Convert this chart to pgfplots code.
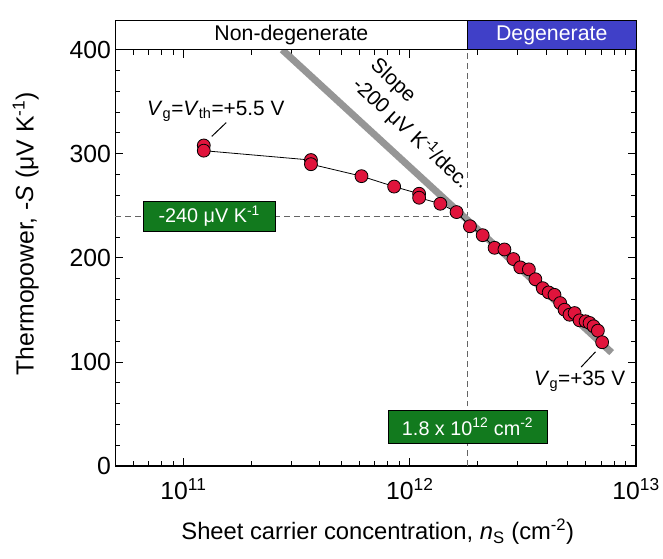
\documentclass[border=0pt]{standalone}
\usepackage{fontspec}
\setmainfont{Liberation Sans}
\usepackage{pgfplots}
\pgfplotsset{compat=1.18}

\definecolor{ptred}{RGB}{224,20,60}
\definecolor{degblue}{RGB}{64,64,200}
\definecolor{boxgreen}{RGB}{18,122,30}
\definecolor{slopegray}{RGB}{150,150,150}
\definecolor{dashgray}{RGB}{100,100,100}

\begin{document}
\begin{tikzpicture}
\begin{axis}[
    name=ax,
    width=524bp, height=419bp, scale only axis,
    xmode=log, xmin=5e10, xmax=1e13,
    ymin=0, ymax=400,
    xtick={1e11,1e12,1e13},
    xticklabels={10\textsuperscript{11},10\textsuperscript{12},10\textsuperscript{13}},
    minor xtick={6e10,7e10,8e10,9e10,2e11,3e11,4e11,5e11,6e11,7e11,8e11,9e11,2e12,3e12,4e12,5e12,6e12,7e12,8e12,9e12},
    ytick={0,100,200,300,400},
    yticklabels={0,100,200,300,400},
    minor y tick num=4,
    tick align=inside,
    major tick length=8bp, minor tick length=5bp,
    every tick/.style={black, line width=1bp},
    axis line style={line width=1.3bp},
    tick label style={font=\fontsize{25}{28}\selectfont},
    xticklabel style={yshift=-9bp},
    yticklabel style={xshift=-1bp},
    xlabel style={at={(axis description cs:0.504,-0.158)}, anchor=center, font=\fontsize{24}{28}\selectfont},
    ylabel style={at={(axis description cs:-0.172,0.558)}, anchor=center, font=\fontsize{25}{28}\selectfont},
    xlabel={Sheet carrier concentration, \textit{n}\textsubscript{S} (cm\textsuperscript{-2})},
    ylabel={Thermopower, -\textit{S} (μV K\textsuperscript{-1})},
    clip=false,
]

% guide lines
\draw[dashgray, line width=1.2bp, dash pattern=on 6bp off 4bp] (axis cs:1.8e12,0) -- (axis cs:1.8e12,400);
\draw[dashgray, line width=1.2bp, dash pattern=on 6bp off 4bp] (axis cs:5e10,240) -- (axis cs:1.8e12,240);

% slope -200 uV/K per decade
\addplot[slopegray, line width=7bp, no markers] coordinates {(2.73e11,400) (7.8e12,109)};

% measured thermopower
\addplot[black, line width=0.8bp, mark=*, mark size=6.5bp,
    mark options={fill=ptred, draw=black, line width=0.8bp}] coordinates {
    (1.23e11,308) (1.23e11,303)
    (3.66e11,294) (3.66e11,290)
    (6.12e11,278.5) (8.53e11,268.5)
    (1.10e12,261.6) (1.10e12,257.8)
    (1.365e12,252) (1.61e12,244)
    (1.845e12,230.4) (2.10e12,221.8)
    (2.37e12,209.7) (2.62e12,208.1)
    (2.87e12,198.9) (3.08e12,190.9)
    (3.36e12,189) (3.59e12,179.5)
    (3.87e12,170.9) (4.11e12,166.8)
    (4.36e12,164.5) (4.62e12,156.6)
    (4.83e12,150.2) (5.08e12,145.4)
    (5.35e12,147) (5.63e12,140)
    (5.98e12,139.1) (6.23e12,137.5)
    (6.49e12,134.3) (6.78e12,130.1)
    (7.08e12,119)
};

% regime band
\draw[fill=white, line width=1bp] (axis cs:5e10,400) rectangle (axis cs:1.8e12,427.7);
\draw[fill=degblue, line width=1bp] (axis cs:1.8e12,400) rectangle (axis cs:1e13,427.7);
\node[font=\fontsize{21.5}{24}\selectfont] at (axis cs:3e11,413.8) {Non-degenerate};
\node[font=\fontsize{21.5}{24}\selectfont, text=white] at (axis cs:4.24e12,413.8) {Degenerate};

% annotations
\node[rotate=-43, align=left, font=\fontsize{21}{27}\selectfont] at (axis cs:1.105e12,328.4) {Slope\\-200 μV K\textsuperscript{-1}/dec.};
\node[font=\fontsize{21}{24}\selectfont] at (axis cs:1.39e11,341) {\textit{V}\textsubscript{g}=\textit{V}\textsubscript{th}=+5.5 V};
\draw[line width=1bp] (axis cs:1.334e11,316.7) -- (axis cs:1.546e11,330);
\node[font=\fontsize{21}{24}\selectfont] at (axis cs:5.63e12,81.8) {\textit{V}\textsubscript{g}=+35 V};
\draw[line width=1bp] (axis cs:5.72e12,95.2) -- (axis cs:6.62e12,109.8);

\node[fill=boxgreen, draw=black, line width=0.6bp, text=white, minimum width=132bp, minimum height=30bp, inner sep=0pt, font=\fontsize{20}{24}\selectfont] at (axis cs:1.30e11,240) {-240 μV K\textsuperscript{-1}};
\node[fill=boxgreen, draw=black, line width=0.6bp, text=white, minimum width=160bp, minimum height=33bp, inner sep=0pt, font=\fontsize{20}{24}\selectfont] at (axis cs:1.8e12,38) {1.8 x 10\textsuperscript{12} cm\textsuperscript{-2}};
\end{axis}
\path ([xshift=-116bp,yshift=-93bp]ax.south west) rectangle ([xshift=23bp,yshift=50bp]ax.north east);
\end{tikzpicture}
\end{document}
